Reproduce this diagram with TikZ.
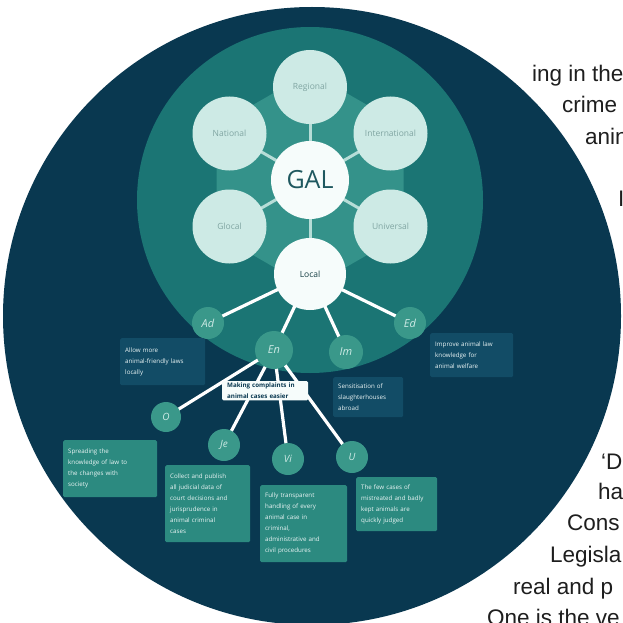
\documentclass[tikz,border=0pt]{standalone}
\usepackage{fontspec}
\setmainfont{Open Sans}
\newfontfamily\pagefont{Liberation Sans}
\definecolor{navy}{RGB}{9,56,80}
\definecolor{navybox}{RGB}{18,76,102}
\definecolor{tealc}{RGB}{27,117,116}
\definecolor{hexc}{RGB}{52,146,138}
\definecolor{palec}{RGB}{205,234,229}
\definecolor{whitec}{RGB}{246,252,251}
\definecolor{smallc}{RGB}{58,152,138}
\definecolor{boxc}{RGB}{44,138,128}
\definecolor{labc}{RGB}{128,165,162}
\definecolor{galc}{RGB}{30,88,95}
\definecolor{pagetxt}{RGB}{30,30,30}
\pgfdeclarelayer{bg}
\pgfdeclarelayer{edges}
\pgfsetlayers{bg,edges,main}
\begin{document}
\begin{tikzpicture}[x=1pt,y=-1pt,
  pagetext/.style={anchor=base west,inner sep=0pt,text=pagetxt,font=\pagefont\fontsize{22.5}{26}\selectfont},
  outer/.style={circle,fill=palec,minimum size=74pt,inner sep=0pt,text=labc,font=\fontsize{8.5}{10}\selectfont},
  inner/.style={circle,fill=whitec,inner sep=0pt},
  small/.style={circle,fill=smallc,inner sep=0pt,text=palec,font=\itshape\fontsize{11}{12}\selectfont},
  infobox/.style={rectangle,rounded corners=1.5pt,anchor=north west,inner xsep=5pt,inner ysep=3pt,align=left,text=white!92!teal,font=\fontsize{6.2}{11}\selectfont},
  spoke/.style={draw=palec!85!hexc,line width=3pt},
  wline/.style={draw=white,line width=3.2pt}]
\useasboundingbox (0,0) rectangle (622,623);
\begin{pgfonlayer}{bg}
\fill[white] (0,0) rectangle (622,623);
\begin{scope}
\clip (0,0) rectangle (622,623);
\node[pagetext] (t1) at (532,82) {ing in the};
\node[pagetext] (t2) at (562,113) {crime};
\node[pagetext] (t3) at (585,144) {anin};
\node[pagetext] (t4) at (618,206) {I};
\node[pagetext] (t5) at (601,469) {‘D};
\node[pagetext] (t6) at (598,499) {ha};
\node[pagetext] (t7) at (567,530) {Cons};
\node[pagetext] (t8) at (550,562) {Legisla};
\node[pagetext] (t9) at (513,594) {real and p};
\node[pagetext] (t10) at (487,625) {One is the ve};
\end{scope}
\fill[navy] (312,316) circle[radius=309pt];
\fill[tealc] (310,200) circle[radius=173pt];
\fill[hexc] (310,72) -- (403.5,126) -- (403.5,234) -- (310,288) -- (216.5,234) -- (216.5,126) -- cycle;
\end{pgfonlayer}

% hexagon circles
\node[outer] (reg) at (310,87) {Regional};
\node[outer] (nat) at (229.5,133.5) {National};
\node[outer] (int) at (390.5,133.5) {International};
\node[outer] (glo) at (229.5,226.5) {Glocal};
\node[outer] (uni) at (390.5,226.5) {Universal};
\node[inner,minimum size=78pt,text=galc,font=\fontsize{25}{28}\selectfont] (gal) at (310,180) {GAL};
\node[inner,minimum size=72pt,text=galc!70!black,font=\fontsize{8.5}{10}\selectfont] (loc) at (310,274) {Local};

% second level
\node[small,minimum size=32pt] (ad) at (208,323) {Ad};
\node[small,minimum size=38pt] (en) at (274,350) {En};
\node[small,minimum size=34pt] (im) at (346,352) {Im};
\node[small,minimum size=32pt] (ed) at (410,323) {Ed};

% third level
\node[small,minimum size=30pt,font=\itshape\fontsize{10}{11}\selectfont] (o) at (166,417) {O};
\node[small,minimum size=32pt,font=\itshape\fontsize{10}{11}\selectfont] (je) at (224,445) {Je};
\node[small,minimum size=32pt,font=\itshape\fontsize{10}{11}\selectfont] (vi) at (288,459) {Vi};
\node[small,minimum size=32pt,font=\itshape\fontsize{10}{11}\selectfont] (u) at (352,457) {U};

% boxes
\node[infobox,fill=navybox,text width=75pt,minimum height=47pt] (adbox) at (120,338) {Allow more\\animal-friendly laws\\locally};
\node[infobox,fill=navybox,text width=73pt,minimum height=44pt] (edbox) at (430,333) {Improve animal law\\knowledge for\\animal welfare};
\node[infobox,fill=navybox,text width=60pt,minimum height=40pt] (imbox) at (333,377) {Sensitisation of\\slaughterhouses\\abroad};
\node[infobox,fill=whitec,text=navy,text width=76pt,inner ysep=2pt,font=\bfseries\fontsize{6.2}{10.5}\selectfont] (enbox) at (222,381) {Making complaints in\\animal cases easier};
\node[infobox,fill=boxc,text width=84pt,minimum height=57pt] (obox) at (63,440) {Spreading the\\knowledge of law to\\the changes with\\society};
\node[infobox,fill=boxc,text width=75pt,minimum height=77pt] (jebox) at (165,465) {Collect and publish\\all judicial data of\\court decisions and\\jurisprudence in\\animal criminal\\cases};
\node[infobox,fill=boxc,text width=77pt,minimum height=77pt] (vibox) at (260,485) {Fully transparent\\handling of every\\animal case in\\criminal,\\administrative and\\civil procedures};
\node[infobox,fill=boxc,text width=71pt,minimum height=54pt] (ubox) at (356,477) {The few cases of\\mistreated and badly\\kept animals are\\quickly judged};

\begin{pgfonlayer}{edges}
\draw[spoke] (gal.center) -- (reg.center);
\draw[spoke] (gal.center) -- (nat.center);
\draw[spoke] (gal.center) -- (int.center);
\draw[spoke] (gal.center) -- (glo.center);
\draw[spoke] (gal.center) -- (uni.center);
\draw[spoke] (gal.center) -- (loc.center);
\draw[wline] (loc.center) -- (ad.center);
\draw[wline] (loc.center) -- (en.center);
\draw[wline] (loc.center) -- (im.center);
\draw[wline] (loc.center) -- (ed.center);
\draw[wline] (en.center) -- (o.center);
\draw[wline] (en.center) -- (je.center);
\draw[wline] (en.center) -- (vi.center);
\draw[wline] (en.center) -- (u.center);
\end{pgfonlayer}
\end{tikzpicture}
\end{document}
